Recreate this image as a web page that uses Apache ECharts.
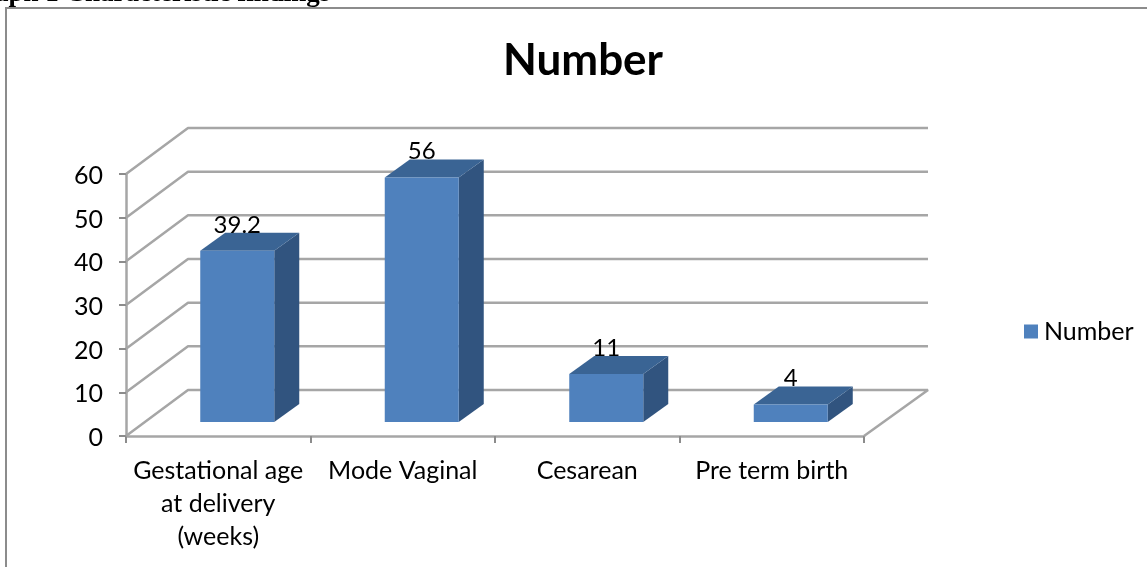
<!DOCTYPE html>
<html>
<head>
<meta charset="utf-8">
<script src="https://cdn.jsdelivr.net/npm/echarts@6/dist/echarts.min.js"></script>
<style>
  html, body { margin: 0; padding: 0; background: #fff; overflow: hidden; }
  #main { width: 1147px; height: 567px; }
</style>
</head>
<body>
<div id="main"></div>
<script>
var categories = ["Gestational age\nat delivery\n(weeks)", "Mode Vaginal", "Cesarean", "Pre term birth"];
var values = [39.2, 56, 11, 4];
var valueLabels = ["39.2", "56", "11", "4"];
var yTicks = [0, 10, 20, 30, 40, 50, 60];
var seriesName = "Number";
var heading = "Graph 1 Characteristic findings";

var font = "Lato";
var gridColor = "#a6a6a6";

// fake 3D: depth of the floor and of a bar, in pixels
var wallDx = 62, wallDy = -46;
var wallRightDx = 64;
var barOffX = 19, barOffY = -14;
var barDx = 25, barDy = -18;
var barWidth = 74;

function renderWall(params, api) {
  var cs = params.coordSys;
  var p = api.coord([0, api.value(1)]);
  var y = p[1];
  var pts = [[cs.x, y], [cs.x + wallDx, y + wallDy], [cs.x + cs.width + wallRightDx, y + wallDy]];
  if (api.value(1) === 0) {
    // floor closes at right side
    pts.push([cs.x + cs.width, y]);
  }
  return {
    type: "polyline",
    shape: { points: pts },
    style: { stroke: gridColor, lineWidth: 2.5, fill: null, lineJoin: "bevel" }
  };
}

function renderBar(params, api) {
  var top = api.coord([api.value(0), api.value(1)]);
  var base = api.coord([api.value(0), 0]);
  var x0 = top[0] - barWidth / 2 + barOffX;
  var x1 = x0 + barWidth;
  var yt = top[1] + barOffY;
  var yb = base[1] + barOffY;
  return {
    type: "group",
    children: [
      { type: "polygon", shape: { points: [[x1, yt], [x1 + barDx, yt + barDy], [x1 + barDx, yb + barDy], [x1, yb]] }, style: { fill: "#31547f" } },
      { type: "polygon", shape: { points: [[x0, yt], [x0 + barDx, yt + barDy], [x1 + barDx, yt + barDy], [x1, yt]] }, style: { fill: "#3a6494" } },
      { type: "rect", shape: { x: x0, y: yt, width: barWidth, height: yb - yt }, style: { fill: "#4f81bd" } },
      {
        type: "text",
        style: {
          x: x0 + barWidth / 2, y: yt - 26,
          text: valueLabels[params.dataIndex],
          font: "24px " + font, fill: "#000",
          textAlign: "center", textVerticalAlign: "middle"
        }
      }
    ]
  };
}

var myChart = echarts.init(document.getElementById("main"), null, { renderer: "canvas" });
var option = {
  animation: false,
  backgroundColor: "#fff",
  title: {
    text: seriesName,
    left: 578,
    top: 34,
    textAlign: "center",
    textStyle: { color: "#000", fontFamily: font, fontWeight: "bold", fontSize: 44 }
  },
  legend: {
    data: [{ name: seriesName, icon: "rect" }],
    left: 1019,
    top: 314,
    itemWidth: 14,
    itemHeight: 14,
    textStyle: { color: "#000", fontFamily: font, fontSize: 25, padding: [0, 0, 0, 1] }
  },
  grid: { left: 126, right: 283, top: 174, bottom: 131 },
  xAxis: {
    type: "category",
    data: categories,
    axisLine: { lineStyle: { color: gridColor, width: 2.5 } },
    axisTick: { show: true, length: 7, lineStyle: { color: "#8c8c8c", width: 2 } },
    axisLabel: { color: "#000", fontFamily: font, fontSize: 25, lineHeight: 33, margin: 18, interval: 0, hideOverlap: false }
  },
  yAxis: {
    type: "value",
    min: 0,
    max: 60,
    interval: 10,
    axisLine: { show: true, lineStyle: { color: gridColor, width: 2.5 } },
    axisTick: { show: true, length: 7, lineStyle: { color: "#8c8c8c", width: 2 } },
    axisLabel: { color: "#000", fontFamily: font, fontSize: 25, margin: 23, verticalAlign: "top", lineHeight: 4 },
    splitLine: { show: false }
  },
  graphic: [
    { type: "polyline", shape: { points: [[6, 567], [6, 8], [1147, 8]] }, style: { stroke: "#8c8c8c", lineWidth: 2, fill: null } },
    { type: "text", style: { x: -38, y: -19, text: heading, font: "bold 27px 'Liberation Serif'", fill: "#000" } }
  ],
  series: [
    {
      type: "custom",
      name: "walls",
      silent: true,
      z: 1,
      renderItem: renderWall,
      encode: { x: 0, y: 1 },
      data: yTicks.map(function (v) { return [0, v]; })
    },
    {
      type: "custom",
      name: seriesName,
      z: 3,
      itemStyle: { color: "#4f81bd" },
      renderItem: renderBar,
      encode: { x: 0, y: 1 },
      data: values.map(function (v, i) { return [i, v]; })
    }
  ]
};
myChart.setOption(option);
</script>
</body>
</html>
